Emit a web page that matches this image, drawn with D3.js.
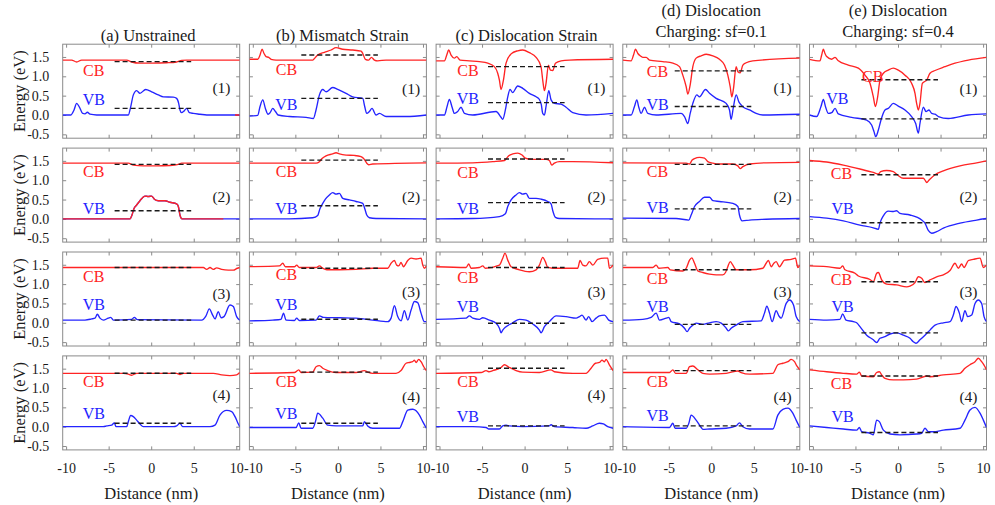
<!DOCTYPE html>
<html><head><meta charset="utf-8">
<script src="https://cdn.jsdelivr.net/npm/d3@7"></script>
<style>
body{margin:0;background:#fff;}
svg{display:block;font-family:"Liberation Serif","Times New Roman",serif;}
svg text{font-family:"Liberation Serif","Times New Roman",serif !important;}
</style></head><body>
<svg id="chart" width="995" height="505"></svg>
<script>
// ---------------- DATA ----------------
const xTicks = [-10, -5, 0, 5, 10];
const xTickLabels = ["-10", "-5", "0", "5", "10"];
const yTicks = [-0.5, 0, 0.5, 1.0, 1.5];
const yTickLabels = ["-0.5", "0.0", "0.5", "1.0", "1.5"];
const columnTitles = [["(a) Unstrained"], ["(b) Mismatch Strain"], ["(c) Dislocation Strain"],
  ["(d) Dislocation", "Charging: sf=0.1"], ["(e) Dislocation", "Charging: sf=0.4"]];
const rowTags = ["(1)", "(2)", "(3)", "(4)"];
const yTitle = "Energy (eV)";
const xTitle = "Distance (nm)";

// dashed average levels [row][col]
const cbLevels = [[1.38, 1.55, 1.25, 1.14, 0.91], [1.41, 1.52, 1.55, 1.41, 1.14], [1.43, 1.41, 1.43, 1.37, 1.06], [1.38, 1.41, 1.51, 1.45, 1.31]];
const vbLevels = [[0.17, 0.43, 0.32, 0.22, -0.10], [0.21, 0.34, 0.42, 0.26, -0.10], [0.07, 0.09, -0.01, -0.04, -0.26], [0.09, 0.09, 0.02, 0.02, -0.15]];
const levelRange = [-4.3, 4.7];

// Row 1
const cbA1 = [[-10.4,1.42],[-9.35,1.42],[-8.76,1.37],[-8.17,1.42],[-2.88,1.42],[-2.30,1.37],[-1.32,1.34],[0.05,1.34],[1.82,1.35],[2.99,1.37],[3.58,1.41],[4.17,1.42],[10.4,1.42]];
const vbA1 = [[-10.4,0],[-9.46,0],[-9.07,0.13],[-8.76,0.30],[-8.45,0.21],[-8.05,0.04],[-7.78,0.03],[-7.50,0.07],[-7.19,0.02],[-6.41,0],[-2.69,0],[-2.41,0.21],[-2.10,0.52],[-1.71,0.63],[-1.32,0.56],[-0.65,0.66],[0.05,0.60],[0.84,0.52],[1.43,0.47],[2.60,0.46],[2.99,0.43],[3.23,0.30],[3.38,0.13],[3.58,0.06],[3.85,0.10],[4.17,0.17],[4.48,0.06],[4.95,0.04],[5.73,0.02],[6.52,0],[10.4,0]];
const cbB1 = [[-10.4,1.44],[-9.42,1.44],[-9.15,1.55],[-8.91,1.70],[-8.68,1.59],[-8.44,1.51],[-8.13,1.49],[-7.85,1.44],[-7.27,1.42],[-2.96,1.42],[-2.64,1.49],[-2.37,1.55],[-1.59,1.62],[-0.80,1.68],[-0.22,1.74],[0.57,1.70],[1.74,1.68],[2.72,1.65],[2.92,1.59],[3.23,1.44],[3.62,1.42],[3.94,1.49],[4.29,1.42],[4.68,1.40],[5.66,1.42],[10.4,1.42]];
const vbB1 = [[-10.4,-0.03],[-9.42,-0.01],[-9.15,0.22],[-8.83,0.39],[-8.52,0.17],[-8.21,0.02],[-7.97,0.06],[-7.66,0.17],[-7.34,0.09],[-7.03,0],[-5.70,-0.04],[-3.74,-0.06],[-2.88,-0.09],[-2.57,0.13],[-2.17,0.52],[-1.78,0.66],[-1.39,0.60],[-0.61,0.71],[-0.02,0.66],[0.96,0.56],[1.74,0.47],[2.92,0.43],[3.15,0.22],[3.39,0.04],[3.70,0.09],[4.01,0.17],[4.48,0],[4.88,0.04],[5.66,-0.04],[8.01,-0.04],[10.4,0]];
const cbC1 = [[-10.4,1.40],[-9.42,1.40],[-9.15,1.55],[-8.92,1.68],[-8.64,1.55],[-8.25,1.47],[-7.98,1.51],[-7.58,1.42],[-6.49,1.40],[-5.31,1.38],[-4.33,1.34],[-3.55,1.25],[-3.16,1.08],[-2.96,0.90],[-2.77,0.66],[-2.49,0.90],[-2.18,1.34],[-1.59,1.58],[-0.81,1.66],[-0.22,1.68],[0.56,1.61],[1.35,1.49],[1.93,1.25],[2.13,0.90],[2.33,0.63],[2.52,0.82],[2.80,1.29],[3.03,1.16],[3.31,1.15],[3.62,1.34],[4.29,1.40],[5.26,1.42],[10.4,1.44]];
const vbC1 = [[-10.4,0],[-9.42,0],[-9.11,0.22],[-8.84,0.40],[-8.52,0.20],[-8.25,0.04],[-7.86,0.09],[-7.47,0.20],[-7.07,0.04],[-6.10,0],[-3.35,0.09],[-2.77,-0.06],[-2.57,-0.11],[-2.26,0.13],[-1.98,0.47],[-1.71,0.66],[-1.40,0.58],[-0.81,0.75],[-0.22,0.69],[0.56,0.56],[1.35,0.47],[1.74,0.40],[1.97,0.26],[2.13,0.04],[2.33,0],[2.52,0.22],[2.84,0.63],[3.11,0.39],[3.50,0.30],[4.29,0.28],[4.87,0.20],[5.66,0.06],[7.22,0],[10.4,0.04]];
const cbD1 = [[-10.4,1.42],[-9.42,1.40],[-9.14,1.55],[-8.91,1.70],[-8.63,1.59],[-8.36,1.53],[-8.05,1.49],[-7.65,1.49],[-7.26,1.42],[-5.70,1.38],[-4.52,1.34],[-3.74,1.25],[-3.35,1.03],[-2.95,0.73],[-2.76,0.54],[-2.48,0.78],[-2.17,1.25],[-1.78,1.47],[-1.19,1.53],[-0.60,1.57],[0.18,1.53],[0.96,1.44],[1.55,1.29],[1.94,1.03],[2.22,0.73],[2.41,0.47],[2.61,0.69],[2.92,1.25],[3.12,1.12],[3.39,1.09],[3.71,1.29],[4.10,1.35],[4.88,1.40],[10.4,1.47]];
const vbD1 = [[-10.4,0],[-9.42,0],[-9.03,0.22],[-8.75,0.39],[-8.52,0.20],[-8.24,0.04],[-7.85,0.20],[-7.46,0.04],[-6.48,0],[-3.54,0.04],[-3.15,-0.04],[-2.76,-0.22],[-2.48,0.04],[-2.17,0.30],[-1.70,0.52],[-1.39,0.47],[-0.68,0.66],[-0.21,0.56],[0.57,0.43],[1.75,0.30],[2.14,0.13],[2.33,-0.11],[2.61,0.22],[2.92,0.52],[3.24,0.34],[3.51,0.26],[3.78,0.20],[4.49,0.13],[5.27,0.04],[6.06,0],[10.4,0.02]];
const cbE1 = [[-10.4,1.44],[-9.17,1.40],[-8.97,1.55],[-8.77,1.70],[-8.58,1.59],[-8.38,1.51],[-7.79,1.44],[-7.40,1.49],[-7.01,1.40],[-5.84,1.29],[-4.66,1.21],[-3.88,1.03],[-3.29,0.82],[-2.90,0.47],[-2.66,0.22],[-2.39,0.47],[-2.12,0.90],[-1.72,1.08],[-1.14,1.16],[-0.55,1.21],[0.04,1.16],[0.82,1.03],[1.60,0.82],[2.00,0.56],[2.19,0.30],[2.39,0.13],[2.58,0.30],[2.86,0.82],[3.09,0.86],[3.37,0.90],[3.76,1.08],[4.35,1.15],[5.52,1.25],[6.70,1.34],[8.26,1.42],[10.4,1.49]];
const vbE1 = [[-10.4,0],[-9.56,-0.04],[-9.05,0.22],[-8.77,0.40],[-8.50,0.20],[-8.19,0.04],[-7.79,0.06],[-7.40,0.17],[-7.01,0.03],[-5.45,-0.06],[-3.68,-0.13],[-3.10,-0.26],[-2.82,-0.43],[-2.62,-0.56],[-2.31,-0.39],[-2.00,-0.13],[-1.53,0.13],[-1.14,0.17],[-0.55,0.30],[0.04,0.23],[0.82,0.13],[1.60,-0.04],[2.08,-0.22],[2.39,-0.47],[2.58,-0.22],[2.98,0.20],[3.29,0.09],[3.64,0.13],[3.96,0.04],[4.35,0.02],[4.74,-0.04],[5.91,-0.09],[8.26,0],[10.4,0.03]];

// Row 2
const cbA2 = [[-10.4,1.44],[-2.69,1.44],[-2.10,1.39],[-0.92,1.37],[0.64,1.37],[2.21,1.38],[3.19,1.41],[3.58,1.44],[10.4,1.44]];
const vbA2 = [[-10.4,0],[-2.49,0],[-2.26,0.10],[-2.02,0.27],[-1.71,0.36],[-1.32,0.47],[-0.73,0.59],[-0.34,0.58],[0.05,0.59],[0.37,0.51],[0.84,0.47],[1.62,0.47],[2.21,0.43],[2.99,0.39],[3.19,0.32],[3.38,0.10],[3.62,0],[10.4,0]];
const cbB2 = [[-10.4,1.44],[-2.57,1.44],[-2.17,1.48],[-1.86,1.56],[-1.39,1.63],[-0.61,1.68],[-0.22,1.71],[0.18,1.68],[0.96,1.65],[1.94,1.64],[2.72,1.61],[3.11,1.54],[3.39,1.44],[3.62,1.40],[4.09,1.42],[10.4,1.45]];
const vbB2 = [[-10.4,0],[-5.70,0],[-2.96,0.03],[-2.37,0.09],[-2.10,0.27],[-1.78,0.40],[-1.47,0.51],[-1.00,0.62],[-0.61,0.68],[-0.22,0.64],[0.18,0.66],[0.57,0.53],[1.35,0.49],[2.13,0.45],[2.92,0.40],[3.15,0.27],[3.39,0.10],[3.70,0.03],[4.48,0.01],[10.4,0]];
const cbC2 = [[-10.4,1.44],[-6.09,1.45],[-3.74,1.48],[-2.37,1.51],[-2.10,1.57],[-1.86,1.63],[-1.39,1.68],[-0.81,1.70],[-0.30,1.65],[0.09,1.57],[0.76,1.54],[2.52,1.54],[2.91,1.51],[3.19,1.39],[3.50,1.44],[4.09,1.48],[5.66,1.48],[10.4,1.45]];
const vbC2 = [[-10.4,0],[-6.09,0.01],[-2.96,0.06],[-2.26,0.13],[-1.98,0.32],[-1.59,0.49],[-1.00,0.62],[-0.61,0.68],[-0.22,0.64],[0.17,0.66],[0.56,0.53],[1.35,0.53],[1.93,0.51],[2.72,0.45],[3.11,0.39],[3.31,0.21],[3.62,0.04],[4.09,0.01],[10.4,0]];
const cbD2 = [[-10.4,1.45],[-2.95,1.44],[-2.56,1.42],[-2.25,1.52],[-1.97,1.56],[-1.39,1.59],[-0.80,1.57],[-0.41,1.48],[0.18,1.44],[0.57,1.42],[2.53,1.42],[3.12,1.37],[3.39,1.30],[3.71,1.35],[4.49,1.42],[6.45,1.45],[10.4,1.46]];
const vbD2 = [[-10.4,0.02],[-4.13,0.01],[-2.64,-0.03],[-2.37,0.10],[-1.97,0.32],[-1.39,0.45],[-0.80,0.56],[-0.21,0.56],[0.18,0.47],[0.96,0.45],[2.53,0.40],[3.12,0.32],[3.31,0.10],[3.63,-0.05],[4.49,-0.03],[6.45,-0.01],[10.4,0.01]];
const cbE2 = [[-10.4,1.51],[-8.38,1.47],[-6.42,1.39],[-4.47,1.29],[-2.90,1.20],[-2.31,1.16],[-2.04,1.22],[-1.33,1.25],[-0.55,1.22],[-0.08,1.14],[0.63,1.05],[2.98,1.05],[3.21,0.99],[3.37,0.94],[3.68,1.01],[4.35,1.14],[5.33,1.24],[7.29,1.37],[9.25,1.45],[10.4,1.50]];
const vbE2 = [[-10.4,0.06],[-8.38,0.02],[-6.42,-0.05],[-4.47,-0.16],[-2.90,-0.23],[-2.31,-0.27],[-2.12,-0.11],[-1.72,0.08],[-1.14,0.20],[-0.55,0.19],[-0.16,0.21],[0.23,0.14],[1.41,0.10],[2.78,-0.03],[3.17,-0.11],[3.56,-0.30],[3.96,-0.37],[4.54,-0.33],[5.33,-0.24],[7.29,-0.11],[9.25,-0.03],[10.4,0.01]];

// Row 3
const cbA3 = [[-10.4,1.43],[6.13,1.43],[6.52,1.38],[6.91,1.43],[7.30,1.38],[7.69,1.42],[8.28,1.38],[9.06,1.36],[9.65,1.36],[10.12,1.41],[10.4,1.43]];
const vbA3 = [[-10.4,0.07],[-7.78,0.07],[-6.99,0.10],[-6.60,0.12],[-6.33,0.22],[-6.02,0.12],[-5.63,0.07],[-5.04,0.12],[-4.76,0.14],[-4.45,0.07],[-2.30,0.09],[-1.98,0.14],[-1.63,0.08],[5.93,0.07],[6.44,0.18],[6.83,0.36],[7.22,0.20],[7.50,0.10],[7.89,0.29],[8.20,0.13],[8.55,0.16],[9.26,0.46],[9.65,0.42],[10.04,0.16],[10.4,0.07]];
const cbB3 = [[-10.4,1.45],[-6.87,1.47],[-6.48,1.54],[-6.17,1.45],[-5.11,1.45],[-4.84,1.49],[-4.53,1.43],[-2.57,1.43],[-2.17,1.47],[-1.78,1.41],[-1.31,1.37],[0.18,1.37],[2.13,1.38],[4.09,1.41],[5.86,1.41],[6.25,1.54],[6.64,1.61],[6.91,1.49],[7.15,1.47],[7.42,1.56],[7.70,1.45],[8.21,1.61],[8.60,1.67],[9.19,1.65],[9.77,1.67],[9.97,1.49],[10.16,1.41],[10.4,1.47]];
const vbB3 = [[-10.4,0.05],[-7.66,0.07],[-6.68,0.09],[-6.40,0.25],[-6.09,0.07],[-5.11,0.06],[-4.84,0.12],[-4.53,0.06],[-2.57,0.07],[-2.17,0.18],[-1.70,0.14],[0.18,0.13],[2.13,0.12],[4.09,0.07],[5.86,0.03],[6.25,0.12],[6.64,0.44],[7.03,0.16],[7.42,0.05],[7.81,0.31],[8.21,0.07],[8.60,0.33],[8.99,0.55],[9.38,0.52],[9.77,0.25],[10.16,0.03],[10.4,0.03]];
const cbC3 = [[-10.4,1.45],[-6.88,1.43],[-6.56,1.52],[-6.29,1.41],[-5.31,1.43],[-4.92,1.47],[-4.61,1.41],[-2.96,1.49],[-2.57,1.67],[-2.30,1.80],[-1.98,1.62],[-1.59,1.45],[-0.61,1.37],[0.56,1.32],[1.35,1.37],[1.74,1.49],[2.13,1.69],[2.44,1.58],[2.72,1.43],[3.31,1.41],[5.66,1.41],[6.24,1.41],[6.52,1.61],[6.83,1.49],[7.22,1.47],[7.61,1.58],[8.01,1.49],[8.59,1.64],[9.38,1.67],[9.77,1.67],[9.97,1.41],[10.4,1.49]];
const vbC3 = [[-10.4,0.09],[-6.88,0.12],[-6.49,0.18],[-6.09,0.12],[-5.31,0.09],[-4.92,0.13],[-4.14,0.07],[-3.35,-0.01],[-2.96,-0.14],[-2.76,-0.26],[-2.57,-0.19],[-2.18,-0.10],[-1.39,0.00],[-0.61,0.09],[0.17,0.07],[0.96,-0.03],[1.74,-0.19],[1.93,-0.26],[2.33,-0.10],[2.91,0.03],[3.70,0.18],[4.87,0.16],[6.05,0.12],[6.44,0.16],[6.75,0.20],[7.22,0.07],[7.53,0.16],[7.93,0.03],[8.40,0.12],[8.79,0.18],[9.38,0.20],[9.89,0.07],[10.4,0.03]];
const cbD3 = [[-10.4,1.43],[-6.87,1.43],[-6.48,1.49],[-6.17,1.41],[-5.11,1.43],[-4.83,1.37],[-3.35,1.34],[-2.95,1.41],[-2.56,1.62],[-2.29,1.68],[-1.97,1.54],[-1.58,1.34],[-1.00,1.30],[-0.21,1.26],[0.57,1.24],[1.35,1.24],[1.67,1.30],[1.94,1.45],[2.22,1.58],[2.53,1.49],[2.92,1.37],[4.49,1.37],[6.06,1.41],[6.45,1.54],[6.72,1.61],[7.03,1.45],[7.35,1.54],[7.62,1.58],[8.01,1.45],[8.60,1.62],[9.39,1.64],[9.89,1.67],[10.17,1.43],[10.4,1.49]];
const vbD3 = [[-10.4,0.07],[-8.05,0.09],[-7.07,0.14],[-6.48,0.25],[-6.09,0.07],[-5.30,0.12],[-4.99,0.14],[-4.72,0.03],[-3.74,-0.03],[-3.15,-0.14],[-2.84,-0.23],[-2.56,-0.14],[-2.17,-0.06],[-1.78,-0.01],[-1.00,-0.04],[-0.21,0.00],[0.57,0.03],[1.16,-0.01],[1.75,-0.14],[2.02,-0.21],[2.33,-0.14],[2.92,-0.06],[3.71,0.03],[5.86,0.05],[6.25,0.25],[6.53,0.43],[6.84,0.25],[7.15,0.03],[7.62,0.31],[7.94,0.18],[8.21,0.12],[8.80,0.50],[9.19,0.59],[9.66,0.46],[9.97,0.16],[10.4,0.03]];
const cbE3 = [[-10.4,1.47],[-8.38,1.45],[-6.82,1.41],[-6.50,1.47],[-6.23,1.37],[-5.05,1.28],[-4.66,1.21],[-3.29,1.12],[-2.90,1.06],[-2.51,1.28],[-2.31,1.30],[-1.92,1.11],[-1.33,1.00],[-0.16,0.98],[1.02,0.93],[1.41,0.95],[2.00,1.04],[2.39,1.19],[2.78,1.15],[3.17,1.04],[3.76,1.11],[4.54,1.19],[5.33,1.24],[6.11,1.35],[6.70,1.54],[7.09,1.41],[7.48,1.52],[7.76,1.43],[8.27,1.61],[8.85,1.64],[9.64,1.67],[10.03,1.43],[10.4,1.49]];
const vbE3 = [[-10.4,0.09],[-8.38,0.07],[-6.82,0.09],[-6.50,0.23],[-6.11,0.07],[-5.25,0.03],[-4.86,0.00],[-4.47,-0.10],[-3.68,-0.32],[-2.90,-0.44],[-2.51,-0.51],[-2.12,-0.40],[-1.53,-0.36],[-0.94,-0.29],[-0.16,-0.26],[0.63,-0.32],[1.41,-0.40],[1.80,-0.49],[2.11,-0.53],[2.58,-0.44],[3.17,-0.32],[3.76,-0.19],[4.35,-0.06],[5.33,0.00],[6.11,0.03],[6.50,0.20],[6.82,0.42],[7.21,0.25],[7.48,0.03],[7.87,0.31],[8.19,0.16],[8.66,0.20],[9.05,0.50],[9.44,0.59],[9.83,0.50],[10.11,0.16],[10.4,0.03]];

// Row 4
const cbA4 = [[-10.4,1.38],[-3.27,1.38],[-2.69,1.36],[-2.30,1.33],[-1.71,1.38],[2.99,1.38],[3.38,1.35],[3.78,1.38],[7.30,1.38],[8.28,1.34],[9.26,1.32],[10.04,1.34],[10.4,1.40]];
const vbA4 = [[-10.4,0],[-5.63,0],[-5.23,0.02],[-4.65,0.04],[-4.33,0.10],[-4.14,0],[-2.88,0],[-2.69,0.13],[-2.41,0.29],[-2.10,0.26],[-1.71,0.17],[-1.32,0.07],[-0.93,0],[2.60,0],[2.99,0.02],[3.38,0.09],[3.70,0],[6.91,0],[7.50,0.04],[8.08,0.30],[8.87,0.42],[9.46,0.39],[9.85,0.26],[10.24,0.07],[10.4,0]];
const cbB4 = [[-10.4,1.38],[-5.11,1.40],[-4.60,1.47],[-4.33,1.40],[-2.96,1.41],[-2.57,1.55],[-2.17,1.58],[-1.78,1.51],[-1.20,1.45],[-0.22,1.40],[2.13,1.40],[3.11,1.45],[3.50,1.41],[4.09,1.38],[6.83,1.38],[7.42,1.45],[8.01,1.64],[8.40,1.66],[8.79,1.68],[8.99,1.72],[9.19,1.66],[9.50,1.74],[9.77,1.68],[10.09,1.55],[10.4,1.45]];
const vbB4 = [[-10.4,-0.02],[-4.92,-0.02],[-4.60,0.10],[-4.33,-0.04],[-2.96,-0.04],[-2.64,0.13],[-2.37,0.35],[-1.78,0.22],[-1.20,0.04],[-0.22,0.02],[2.92,0.02],[3.11,0.13],[3.50,0.02],[4.09,-0.04],[7.23,-0.04],[7.62,0.13],[8.21,0.43],[8.79,0.45],[9.58,0.30],[9.97,0.13],[10.4,-0.04]];
const cbC4 = [[-10.4,1.38],[-5.11,1.40],[-4.53,1.45],[-4.21,1.42],[-3.74,1.45],[-2.76,1.53],[-2.37,1.60],[-1.79,1.53],[-1.00,1.45],[-0.22,1.41],[1.74,1.40],[3.11,1.47],[3.50,1.42],[5.66,1.38],[7.22,1.38],[7.81,1.51],[8.32,1.64],[8.79,1.66],[9.10,1.72],[9.38,1.68],[9.57,1.74],[9.96,1.60],[10.4,1.45]];
const vbC4 = [[-10.4,0],[-6.09,0],[-4.53,-0.02],[-4.21,-0.06],[-2.96,-0.06],[-2.57,0.02],[-2.18,0.04],[-1.79,0.02],[-0.22,0],[2.91,0.02],[3.11,0.05],[3.50,0],[5.66,-0.02],[7.22,-0.04],[8.01,0.02],[8.79,0.09],[9.26,0.07],[9.77,0],[10.4,-0.04]];
const cbD4 = [[-10.4,1.40],[-4.91,1.40],[-4.52,1.47],[-4.21,1.38],[-2.95,1.38],[-2.56,1.55],[-2.17,1.57],[-1.58,1.47],[-1.00,1.38],[-0.21,1.36],[1.75,1.38],[3.12,1.44],[3.51,1.40],[4.49,1.36],[7.23,1.38],[7.82,1.60],[8.41,1.64],[9.00,1.68],[9.39,1.74],[9.78,1.68],[10.05,1.57],[10.4,1.47]];
const vbD4 = [[-10.4,0],[-4.91,-0.02],[-4.52,0.09],[-4.25,-0.04],[-2.95,-0.04],[-2.64,0.09],[-2.37,0.30],[-1.78,0.17],[-1.19,-0.02],[-1.00,-0.07],[-0.21,-0.06],[1.75,-0.04],[2.92,0.02],[3.31,0.10],[3.71,0],[4.49,-0.06],[7.23,-0.06],[7.82,0.30],[8.41,0.45],[9.00,0.48],[9.58,0.35],[9.97,0.17],[10.4,-0.02]];
const cbE4 = [[-10.4,1.47],[-8.38,1.42],[-6.42,1.38],[-4.86,1.36],[-4.54,1.41],[-4.27,1.31],[-2.90,1.29],[-2.51,1.40],[-2.19,1.42],[-1.92,1.34],[-1.53,1.25],[-0.55,1.21],[0.63,1.21],[2.19,1.23],[3.37,1.31],[3.76,1.29],[5.33,1.34],[7.29,1.38],[7.87,1.51],[8.46,1.60],[9.05,1.68],[9.44,1.77],[9.83,1.68],[10.22,1.55],[10.4,1.47]];
const vbE4 = [[-10.4,0.02],[-8.38,-0.02],[-6.42,-0.06],[-4.86,-0.09],[-4.54,-0.02],[-4.27,-0.13],[-3.29,-0.17],[-2.90,-0.21],[-2.51,0.17],[-2.19,0.13],[-1.72,-0.09],[-0.94,-0.19],[0.23,-0.21],[2.19,-0.19],[2.78,-0.17],[3.17,-0.04],[3.56,-0.13],[4.15,-0.13],[5.33,-0.09],[7.29,-0.04],[7.87,0.17],[8.46,0.43],[9.05,0.50],[9.64,0.35],[10.03,0.17],[10.4,-0.02]];

const cbCurves = [[cbA1, cbB1, cbC1, cbD1, cbE1], [cbA2, cbB2, cbC2, cbD2, cbE2], [cbA3, cbB3, cbC3, cbD3, cbE3], [cbA4, cbB4, cbC4, cbD4, cbE4]];
const vbCurves = [[vbA1, vbB1, vbC1, vbD1, vbE1], [vbA2, vbB2, vbC2, vbD2, vbE2], [vbA3, vbB3, vbC3, vbD3, vbE3], [vbA4, vbB4, vbC4, vbD4, vbE4]];
// red-drawn stretches of the VB curve (as in the original figure): [row, col, from, to]
const redOverlay = [[0, 0, 9.85, 10.4], [1, 0, -10.4, 8.48]];

// label anchors in data units [row][col] : CB (x,E), VB (x,E), tag (x,E)
const cbLabelPos = [[[-6.75,1.16],[-6.05,1.18],[-6.66,1.16],[-6.32,1.12],[-2.97,0.99]],
  [[-6.75,1.22],[-6.05,1.22],[-6.66,1.20],[-6.32,1.22],[-6.64,1.18]],
  [[-6.75,1.19],[-6.05,1.24],[-6.66,1.18],[-6.32,1.15],[-6.64,1.11]],
  [[-6.75,1.16],[-6.05,1.16],[-6.66,1.16],[-6.32,1.16],[-6.64,1.12]]];
const vbLabelPos = [[[-6.75,0.39],[-6.05,0.28],[-6.66,0.43],[-6.32,0.28],[-7.13,0.43]],
  [[-6.75,0.27],[-6.05,0.27],[-6.66,0.27],[-6.32,0.30],[-6.52,0.27]],
  [[-6.75,0.46],[-6.05,0.46],[-6.66,0.42],[-6.32,0.42],[-6.52,0.42]],
  [[-6.75,0.35],[-6.05,0.35],[-6.66,0.26],[-6.32,0.30],[-6.52,0.26]]];
const tagLabelPos = [[[8.26,0.70],[8.6,0.69],[8.44,0.70],[8.37,0.70],[8.28,0.69]],
  [[8.26,0.57],[8.6,0.59],[8.44,0.59],[8.37,0.57],[8.28,0.59]],
  [[8.26,0.76],[8.6,0.80],[8.44,0.80],[8.37,0.80],[8.28,0.80]],
  [[8.26,0.84],[8.6,0.78],[8.44,0.84],[8.37,0.78],[8.28,0.78]]];

// ---------------- LAYOUT ----------------
const W = 177, H = 94;
const colX0 = 62.7, colStep = 186.7, rowY0 = 44.2, rowStep = 103.9;
const titleDx = [-3, 4.5, 2, 0, 0];
const RED = "#ff2424", BLUE = "#2424ff", FRAME = "#8a8a8a", TXT = "#1a1a1a";
const FONT = '"Liberation Serif","Times New Roman",serif';

const svg = d3.select("#chart");
svg.append("rect").attr("width", 995).attr("height", 505).attr("fill", "#fff");

const x = d3.scaleLinear().domain([-10.4, 10.4]).range([0, W]);
const y = d3.scaleLinear().domain([-0.6, 1.83]).range([H, 0]);
const line = d3.line().x(d => x(d[0])).y(d => y(d[1])).curve(d3.curveMonotoneX);

const defs = svg.append("defs");
defs.append("clipPath").attr("id", "panelClip").append("rect").attr("width", W).attr("height", H);
redOverlay.forEach((o, i) => {
  defs.append("clipPath").attr("id", "ov" + i).append("rect")
    .attr("x", x(o[2])).attr("width", x(o[3]) - x(o[2])).attr("y", -5).attr("height", H + 10);
});

function styleAxis(g) {
  g.attr("font-family", null).attr("font-size", null);
  g.select(".domain").remove();
  g.selectAll(".tick line").attr("stroke", FRAME).attr("stroke-width", 1);
  g.selectAll(".tick text").attr("fill", TXT).style("font-size", "14px").style("font-family", FONT);
}

for (let r = 0; r < 4; r++) {
  for (let c = 0; c < 5; c++) {
    const g = svg.append("g").attr("transform", `translate(${colX0 + c * colStep},${rowY0 + r * rowStep})`);

    g.append("g").attr("transform", `translate(0,${H})`)
      .call(d3.axisBottom(x).tickValues(xTicks).tickSize(-3.5).tickPadding(13)
        .tickFormat(r === 3 ? (d, i) => xTickLabels[i] : () => ""))
      .call(styleAxis);
    g.append("g").call(d3.axisTop(x).tickValues(xTicks).tickSize(-3.5).tickFormat(() => "")).call(styleAxis);
    g.append("g")
      .call(d3.axisLeft(y).tickValues(yTicks).tickSize(-3.5).tickPadding(13.4)
        .tickFormat(c === 0 ? (d, i) => yTickLabels[i] : () => ""))
      .call(styleAxis);
    g.append("g").attr("transform", `translate(${W},0)`)
      .call(d3.axisRight(y).tickValues(yTicks).tickSize(-3.5).tickFormat(() => "")).call(styleAxis);

    g.append("rect").attr("width", W).attr("height", H).attr("fill", "none")
      .attr("stroke", FRAME).attr("stroke-width", 1);

    const plot = g.append("g").attr("clip-path", "url(#panelClip)");
    plot.append("path").datum(cbCurves[r][c]).attr("d", line)
      .attr("fill", "none").attr("stroke", RED).attr("stroke-width", 1.35);
    plot.append("path").datum(vbCurves[r][c]).attr("d", line)
      .attr("fill", "none").attr("stroke", BLUE).attr("stroke-width", 1.35);
    redOverlay.forEach((o, i) => {
      if (o[0] === r && o[1] === c) {
        plot.append("g").attr("clip-path", `url(#ov${i})`).append("path")
          .datum(vbCurves[r][c]).attr("d", line)
          .attr("fill", "none").attr("stroke", RED).attr("stroke-width", 1.35);
      }
    });
    [cbLevels[r][c], vbLevels[r][c]].forEach(lv => {
      plot.append("path").datum([[levelRange[0], lv], [levelRange[1], lv]])
        .attr("d", d3.line().x(d => x(d[0])).y(d => y(d[1])))
        .attr("stroke", "#1a1a1a").attr("stroke-width", 1.4).attr("stroke-dasharray", "5,3").attr("fill", "none");
    });

    g.append("text").attr("x", x(cbLabelPos[r][c][0])).attr("y", y(cbLabelPos[r][c][1]))
      .attr("text-anchor", "middle").attr("dominant-baseline", "central")
      .attr("font-size", 16).attr("fill", RED).text("CB");
    g.append("text").attr("x", x(vbLabelPos[r][c][0])).attr("y", y(vbLabelPos[r][c][1]))
      .attr("text-anchor", "middle").attr("dominant-baseline", "central")
      .attr("font-size", 16).attr("fill", BLUE).text("VB");
    g.append("text").attr("x", x(tagLabelPos[r][c][0])).attr("y", y(tagLabelPos[r][c][1]))
      .attr("text-anchor", "middle").attr("dominant-baseline", "central")
      .attr("font-size", 15.5).attr("fill", TXT).text(rowTags[r]);
  }
  const cy = rowY0 + r * rowStep + H / 2;
  svg.append("text").attr("transform", `translate(19,${cy}) rotate(-90)`)
    .attr("text-anchor", "middle").attr("dominant-baseline", "central")
    .attr("font-size", 16.5).attr("fill", TXT).text(yTitle);
}

for (let c = 0; c < 5; c++) {
  const cx = colX0 + c * colStep + W / 2;
  const lines = columnTitles[c];
  const baselines = lines.length === 1 ? [40.5] : [16, 37];
  lines.forEach((t, i) => {
    svg.append("text").attr("x", cx + titleDx[c]).attr("y", baselines[i])
      .attr("text-anchor", "middle").attr("font-size", 16.5).attr("fill", TXT).text(t);
  });
  svg.append("text").attr("x", cx).attr("y", 499)
    .attr("text-anchor", "middle").attr("font-size", 16.5).attr("fill", TXT).text(xTitle);
}
</script></body></html>
